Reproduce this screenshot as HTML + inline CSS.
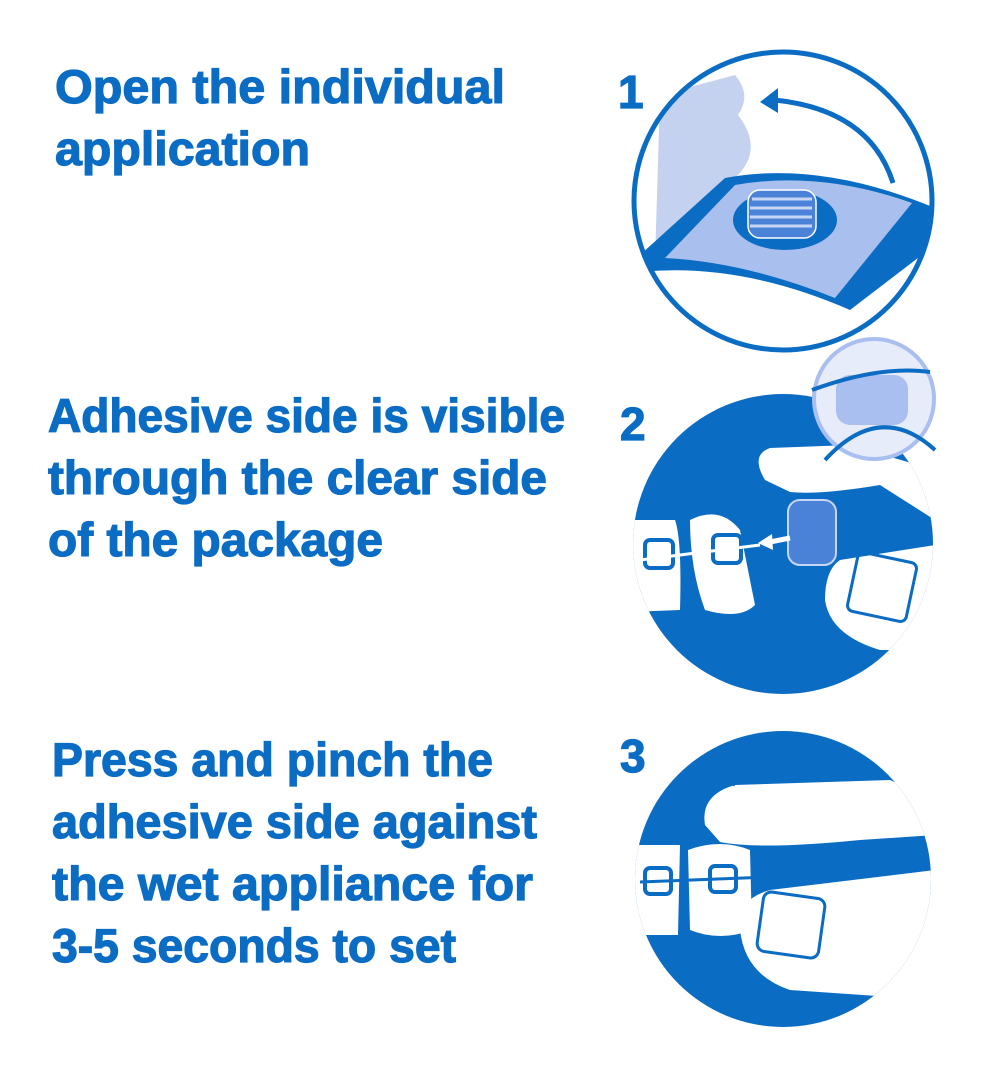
<!DOCTYPE html>
<html><head><meta charset="utf-8"><style>
html,body{margin:0;padding:0;background:#fff;}
svg{display:block}
text{font-family:"Liberation Sans",sans-serif;font-weight:bold;fill:#0b6cc4;stroke:#0b6cc4;stroke-width:1.2}
</style></head><body>
<svg width="984" height="1080" viewBox="0 0 984 1080">
<g font-size="47">
<text x="55" y="103" textLength="450" lengthAdjust="spacingAndGlyphs">Open the individual</text>
<text x="55" y="165" textLength="255" lengthAdjust="spacingAndGlyphs">application</text>
<text x="48" y="432" textLength="517" lengthAdjust="spacingAndGlyphs">Adhesive side is visible</text>
<text x="48" y="494" textLength="499" lengthAdjust="spacingAndGlyphs">through the clear side</text>
<text x="48" y="556" textLength="335" lengthAdjust="spacingAndGlyphs">of the package</text>
<text x="52" y="776" textLength="441" lengthAdjust="spacingAndGlyphs">Press and pinch the</text>
<text x="52" y="838" textLength="485" lengthAdjust="spacingAndGlyphs">adhesive side against</text>
<text x="52" y="900" textLength="481" lengthAdjust="spacingAndGlyphs">the wet appliance for</text>
<text x="52" y="962" textLength="404" lengthAdjust="spacingAndGlyphs">3-5 seconds to set</text>
</g>
<g font-size="46">
<text x="618" y="108">1</text>
<text x="620" y="440">2</text>
<text x="620" y="772">3</text>
</g>
<defs>
<clipPath id="c1"><circle cx="783" cy="201" r="149"/></clipPath>
<clipPath id="c2"><circle cx="783" cy="544" r="150"/></clipPath>
<clipPath id="c3"><circle cx="783" cy="879" r="148"/></clipPath>
</defs>
<g clip-path="url(#c1)">
<path d="M660 95 L735 75 Q752 95 738 115 Q765 150 735 178 L690 215 L690 260 L655 262 Z" fill="#c4d2f0"/>
<path d="M640 255 L725 178 Q820 160 935 208 L935 245 L850 310 Q740 262 640 272 Z" fill="#0b6cc4"/>
<path d="M665 258 L735 185 Q820 170 912 203 L835 298 Q745 262 665 258 Z" fill="#a9c0ee"/>
<ellipse cx="785" cy="220" rx="52" ry="30" fill="#0b6cc4"/>
<rect x="748" y="190" width="68" height="48" rx="12" fill="#4a82d8" stroke="#fff" stroke-width="1.5"/>
<path d="M752 199h60M750 208h62M750 217h62M750 226h62" stroke="#c6d6f4" stroke-width="3"/>
</g>
<path d="M893 183 Q870 110 775 100" fill="none" stroke="#0b6cc4" stroke-width="5"/>
<path d="M760 102 L778 88 L778 113 Z" fill="#0b6cc4"/>
<circle cx="783" cy="201" r="149" fill="none" stroke="#0b6cc4" stroke-width="5"/>
<circle cx="783" cy="544" r="150" fill="#0b6cc4"/>
<g clip-path="url(#c2)">
<path d="M765 480 Q750 455 770 448 L850 445 L935 470 L935 520 L880 485 Q820 495 790 492 Z" fill="#fff"/>
<path d="M840 560 L935 545 L935 650 L880 650 Q830 635 825 600 Q825 570 840 560 Z" fill="#fff"/>
<path d="M630 520 L675 520 Q682 540 680 610 L630 612 Z" fill="#fff"/>
<path d="M690 520 Q720 505 740 530 L755 605 Q740 620 705 610 Q690 570 690 520 Z" fill="#fff"/>
<rect x="852" y="557" width="60" height="60" rx="6" transform="rotate(12 882 587)" fill="none" stroke="#0b6cc4" stroke-width="3"/>
<rect x="645" y="540" width="28" height="28" rx="5" fill="none" stroke="#0b6cc4" stroke-width="4"/>
<rect x="713" y="535" width="28" height="28" rx="5" fill="none" stroke="#0b6cc4" stroke-width="4"/>
</g>
<rect x="788" y="500" width="48" height="65" rx="12" fill="#4a82d8" stroke="#c6d6f4" stroke-width="2"/>
<path d="M640 560 L760 545" stroke="#fff" stroke-width="3"/>
<path d="M790 538 L770 542" stroke="#fff" stroke-width="5"/>
<path d="M758 543 L772 534 L773 550 Z" fill="#fff"/>
<circle cx="874" cy="399" r="60" fill="#e6ecfa" stroke="#a9bff0" stroke-width="4"/>
<rect x="836" y="375" width="72" height="50" rx="14" fill="#a9bff0"/>
<path d="M812 390 Q880 365 930 372 M825 460 Q880 400 935 450" fill="none" stroke="#0b6cc4" stroke-width="4"/>
<circle cx="783" cy="879" r="148" fill="#0b6cc4"/>
<g clip-path="url(#c3)">
<path d="M705 825 Q700 795 735 785 L890 780 L935 800 L935 835 L860 840 Q760 850 720 842 Z" fill="#fff"/>
<path d="M740 930 Q735 900 770 890 L935 870 L935 1000 L790 990 Q745 975 740 930 Z" fill="#fff"/>
<path d="M632 845 L680 845 L678 935 L632 935 Z" fill="#fff"/>
<path d="M688 850 Q720 838 750 850 L752 930 Q720 942 690 930 Z" fill="#fff"/>
<rect x="760" y="895" width="62" height="60" rx="8" transform="rotate(8 791 925)" fill="none" stroke="#0b6cc4" stroke-width="3"/>
<rect x="645" y="868" width="26" height="26" rx="5" fill="none" stroke="#0b6cc4" stroke-width="4"/>
<rect x="710" y="866" width="26" height="26" rx="5" fill="none" stroke="#0b6cc4" stroke-width="4"/>
</g>
<path d="M640 882 L770 877" stroke="#0b6cc4" stroke-width="3"/>
<path d="M735 785 Q705 770 690 770 M740 760 Q720 752 705 755 M745 1000 Q720 990 708 985" fill="none" stroke="#0b6cc4" stroke-width="3"/>
</svg>
</body></html>
